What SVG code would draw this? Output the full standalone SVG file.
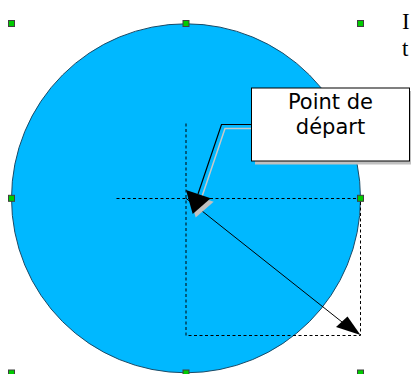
<svg xmlns="http://www.w3.org/2000/svg" width="411" height="374" viewBox="0 0 411 374">
<style>
.dash{fill:none;stroke:#000;stroke-width:1;stroke-dasharray:3 2.5}
.handle{fill:#00cc00;stroke:#404040;stroke-width:1}
.shadow{fill:#c0c0c0;stroke:none}
.label{font-family:"DejaVu Sans",sans-serif;font-size:21px;fill:#000;text-anchor:middle}
.serif{font-family:"Liberation Serif",serif;font-size:23px;fill:#000}
</style>
<rect width="411" height="374" fill="#fff"/>
<g id="circle">
<circle cx="186" cy="198.3" r="174.5" fill="#00b8ff" stroke="#1b4a66" stroke-width="1"/>
</g>
<g id="connectors">
<path class="dash" d="M186 123.5V335.5H360.5V198.5H115"/>
<line x1="186" y1="198.3" x2="342" y2="322" stroke="#000" stroke-width="1"/>
<polygon points="360.5,335 347.5,316.5 336,327" fill="#000"/>
<polyline points="251.5,128.5 225,128.5 201.5,198" fill="none" stroke="#c8c8c8" stroke-width="1.5"/>
<polyline points="251.5,124.5 221.5,124.5 198,194" fill="none" stroke="#000" stroke-width="1.2"/>
<polygon class="shadow" points="195.7,217.5 189,193.5 213.7,201.8"/>
<polygon points="192.7,214 186,190 210.7,198.3" fill="#000"/>
</g>
<g id="callout">
<rect class="shadow" x="255" y="91" width="158" height="73.5"/>
<rect x="251.5" y="88" width="158" height="73" fill="#fff" stroke="#000" stroke-width="1"/>
<text class="label" x="330.5" y="108.5">Point de</text>
<text class="label" x="330.5" y="133.5">départ</text>
</g>
<g id="handles">
<rect class="handle" x="8.5" y="20.5" width="6" height="6"/>
<rect class="handle" x="183" y="20.5" width="6" height="6"/>
<rect class="handle" x="357.5" y="20.5" width="6" height="6"/>
<rect class="handle" x="8.5" y="195.3" width="6" height="6"/>
<rect class="handle" x="357.5" y="195.3" width="6" height="6"/>
<rect class="handle" x="8.5" y="370" width="6" height="6"/>
<rect class="handle" x="183" y="370" width="6" height="6"/>
<rect class="handle" x="357.5" y="370" width="6" height="6"/>
</g>
<g id="sidetext">
<text class="serif" x="402" y="28.5">I</text>
<text class="serif" x="402" y="55.5">t</text>
</g>
</svg>
